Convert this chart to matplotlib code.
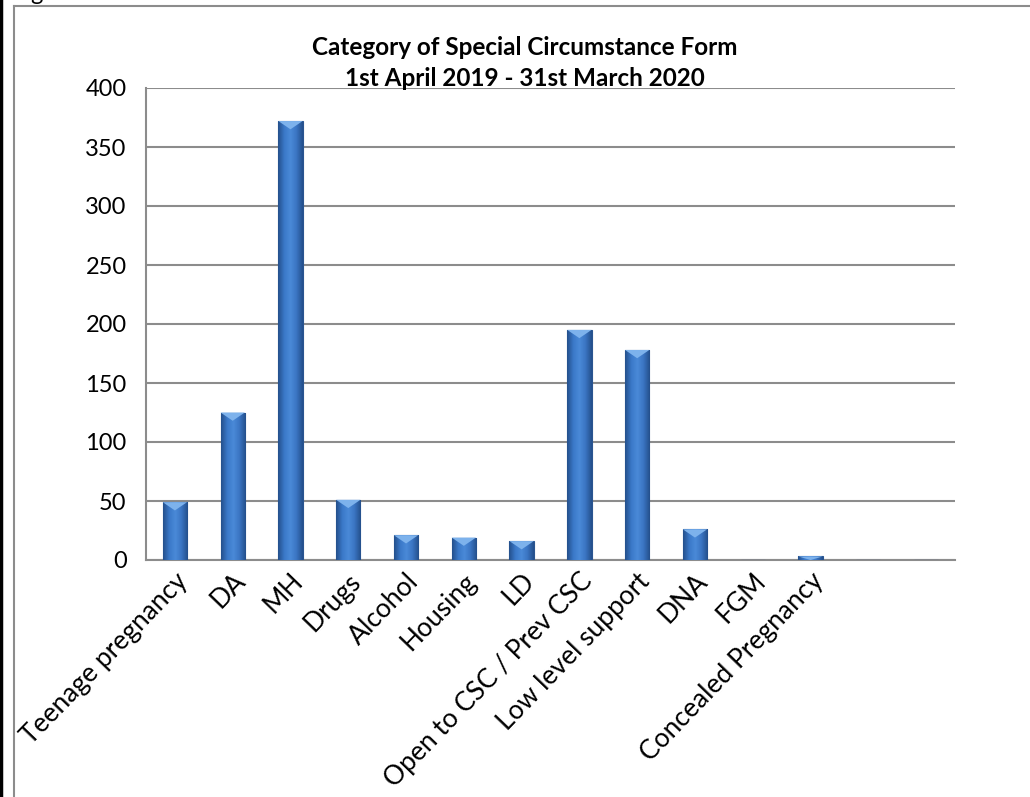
import matplotlib
matplotlib.use("Agg")
import matplotlib.pyplot as plt
import matplotlib.transforms as mtransforms
from matplotlib.lines import Line2D
from matplotlib.colors import LinearSegmentedColormap
import numpy as np

# data
categories = ["Teenage pregnancy", "DA", "MH", "Drugs", "Alcohol", "Housing",
              "LD", "Open to CSC / Prev CSC", "Low level support", "DNA",
              "FGM", "Concealed Pregnancy", "", ""]
values = [49, 125, 372, 51, 21, 19, 16, 195, 178, 26, 0, 3, 0, 0]
yticks = [0, 50, 100, 150, 200, 250, 300, 350, 400]
title = "Category of Special Circumstance Form\n1st April 2019 - 31st March 2020"

plt.rcParams["font.family"] = ["Lato", "DejaVu Sans"]

fig = plt.figure(figsize=(10.30, 7.97), dpi=100)
ax = fig.add_axes([146 / 1030, 1 - 560 / 797, 809 / 1030, 472 / 797])

x = np.arange(len(categories))
bars = ax.bar(x, values, width=0.42, color="#3A74C2", edgecolor="#2A5590",
              linewidth=0.8, zorder=3)

# cylinder-ish shading across each bar
shade = LinearSegmentedColormap.from_list(
    "shade", ["#24508C", "#3A78C8", "#4A8AD8", "#3A74C2", "#24508C"])
grad = np.linspace(0, 1, 64).reshape(1, -1)
for b in bars:
    if b.get_height() <= 0:
        continue
    x0, w, h = b.get_x(), b.get_width(), b.get_height()
    im = ax.imshow(grad, cmap=shade, aspect="auto", extent=[x0, x0 + w, 0, h],
                   zorder=4)
    im.set_clip_path(b)
    # light bevel at the top
    bh = min(7, h)
    ax.fill([x0, x0 + w, x0 + w / 2], [h, h, h - bh], color="#7DB2EC",
            zorder=5, lw=0)

ax.set_xlim(-0.5, len(categories) - 0.5)
ax.set_ylim(0, 400)
ax.set_yticks(yticks)
ax.set_yticklabels([str(v) for v in yticks], fontsize=17)
ax.set_xticks(x)
ax.set_xticklabels(categories, fontsize=19, rotation=46, ha="right",
                   va="top", rotation_mode="anchor")
off = mtransforms.ScaledTranslation(25 / 100, 3 / 100, fig.dpi_scale_trans)
for lab in ax.get_xticklabels():
    lab.set_transform(lab.get_transform() + off)

ax.tick_params(axis="both", length=0)
ax.tick_params(axis="y", pad=14)
ax.tick_params(axis="x", pad=6)
ax.grid(axis="y", color="#8C8C8C", linewidth=1.5, zorder=1)
ax.set_axisbelow(True)
for s in ["top", "right"]:
    ax.spines[s].set_visible(False)
ax.spines["left"].set_color("#8C8C8C")
ax.spines["left"].set_linewidth(1.5)
ax.spines["bottom"].set_color("#8C8C8C")
ax.spines["bottom"].set_linewidth(1.5)

fig.text(525 / 1030, 1 - 63 / 797, title, ha="center", va="center",
         fontsize=17.5, fontweight="bold", linespacing=1.42)

# chart frame (cut off at right/bottom) and page edge
fig.add_artist(Line2D([14 / 1030, 14 / 1030], [0, 1 - 6 / 797],
                      color="#8C8C8C", lw=1.5, transform=fig.transFigure))
fig.add_artist(Line2D([14 / 1030, 1], [1 - 6 / 797, 1 - 6 / 797],
                      color="#8C8C8C", lw=1.5, transform=fig.transFigure))
fig.add_artist(Line2D([1 / 1030, 1 / 1030], [0, 1], color="black", lw=2.5,
                      transform=fig.transFigure))
fig.text(30 / 1030, 1.0, "g", fontsize=17, va="baseline", ha="left")

fig.savefig("out.png", dpi=100)
